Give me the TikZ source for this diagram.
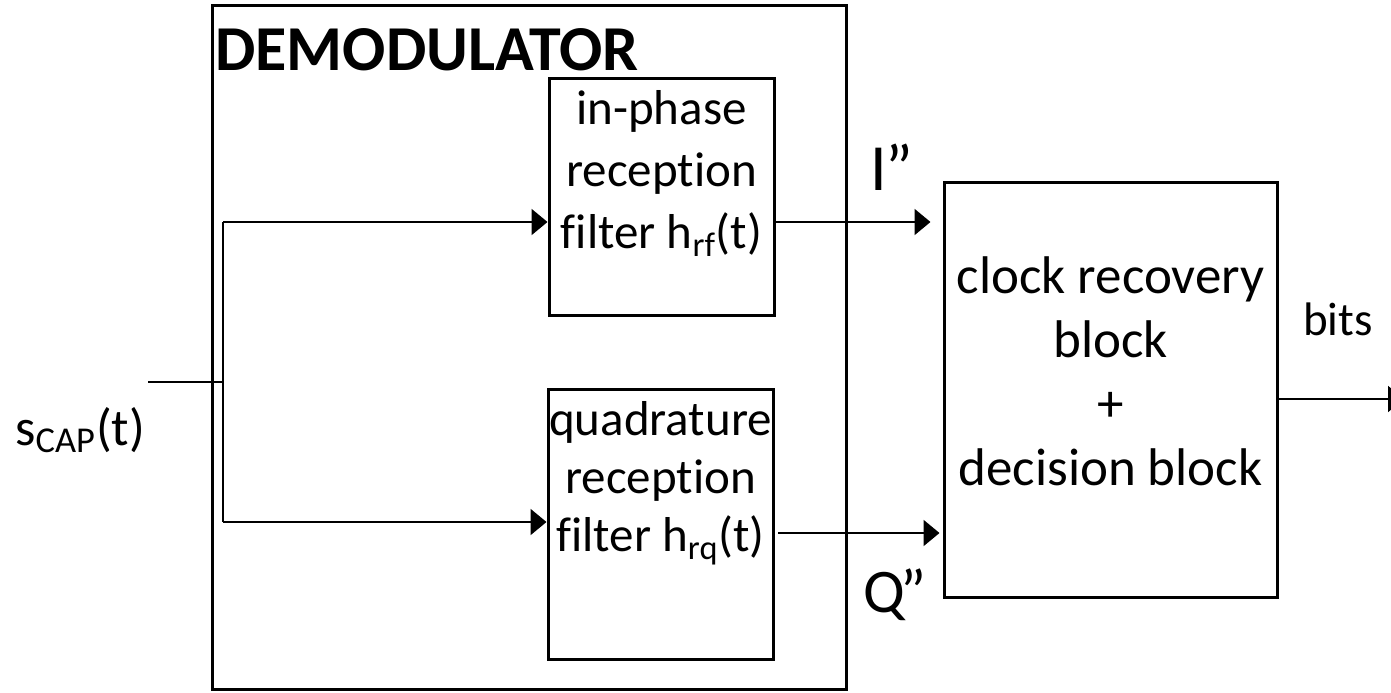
\documentclass[tikz,border=0pt]{standalone}
\usepackage{fontspec}
\setmainfont{Carlito}[Ligatures=NoCommon]
\usetikzlibrary{arrows.meta,positioning}

\tikzset{
  block/.style={draw,line width=1.5pt,inner sep=0pt},
  blocktext/.style={align=center,inner sep=0pt,font=\fontsize{24.5}{31}\selectfont},
  wire/.style={line width=1pt},
  sig/.style={wire,-{Triangle[length=8pt,width=13pt]}},
}

\begin{document}
\begin{tikzpicture}[x=.5pt,y=-.5pt]
  \useasboundingbox (0,0) rectangle (1391,692);
  \clip (0,0) rectangle (1391,692);
  % demodulator frame
  \node[block,minimum width=317pt,minimum height=342pt] (demod) at (529,347) {};
  \node[anchor=base west,inner sep=0pt,font=\fontsize{32}{38}\selectfont\bfseries] (title) at (215,70) {DEMODULATOR};
  % reception filters
  \node[block,minimum width=112.5pt,minimum height=118.5pt] (ipf) at (661.5,196.5) {};
  \node[blocktext,anchor=north] (ipftxt) at ([yshift=-7pt]ipf.north) {in-phase\\reception\\filter h\textsubscript{rf}(t)};
  \node[block,minimum width=112.5pt,minimum height=135pt] (qpf) at (660.5,524) {};
  \node[blocktext,anchor=north,font=\fontsize{24.5}{29}\selectfont] (qpftxt) at ([yshift=-7pt]qpf.north) {quadrature\\reception\\filter h\textsubscript{rq}(t)};
  % clock recovery + decision
  \node[block,minimum width=166.5pt,minimum height=207.5pt] (dec) at (1110.5,389.5) {};
  \node[blocktext,font=\fontsize{26.5}{32}\selectfont] (dectxt) at ([yshift=9pt]dec.center) {clock recovery\\block\\+\\decision block};
  % connectors
  \coordinate (src) at (148,382);
  \coordinate (jn) at (223,382);
  \coordinate (itap) at (223,222);
  \coordinate (qtap) at (223,522);
  \coordinate (qout) at (778,533);
  \coordinate (sink) at (1404,399);
  \draw[wire] (src) -- (jn);
  \draw[wire] (itap) -- (qtap);
  \draw[sig] (itap) -- (itap -| ipf.west);
  \draw[sig] (qtap) -- (qtap -| qpf.west);
  \draw[sig,shorten >=6pt] (itap -| ipf.east) -- (itap -| dec.west);
  \draw[sig,shorten >=1.5pt] (qout) -- (qout -| dec.west);
  \draw[sig] (sink -| dec.east) -- (sink);
  % signal labels
  \node[anchor=base,inner sep=0pt,font=\fontsize{33}{38}\selectfont] (ilbl) at (892,190) {I\kern-1pt”};
  \node[anchor=base,inner sep=0pt,font=\fontsize{31}{36}\selectfont] (qlbl) at (895,612) {Q\kern-2pt”};
  \node[anchor=base,inner sep=0pt,font=\fontsize{23.5}{28}\selectfont] (bits) at (1338,335) {bits};
  \node[anchor=base west,inner sep=0pt,font=\fontsize{26}{30}\selectfont] (sin) at (15,445) {s\textsubscript{CAP}(t)};
\end{tikzpicture}
\end{document}
